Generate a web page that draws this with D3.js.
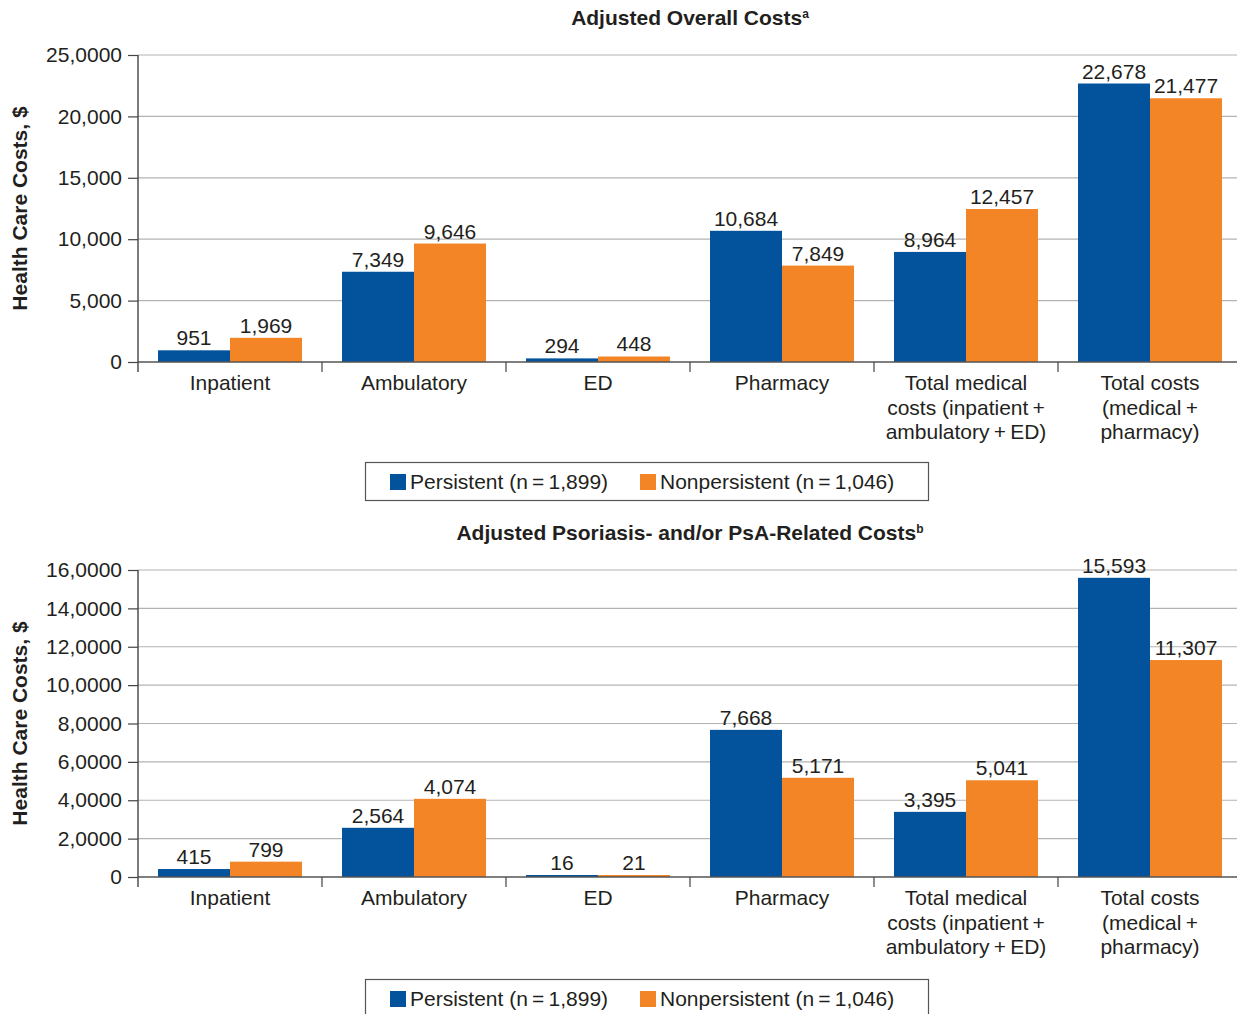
<!DOCTYPE html>
<html><head><meta charset="utf-8">
<script src="https://cdn.jsdelivr.net/npm/d3@7"></script>
<style>body{margin:0;background:#fff}svg{display:block;font-family:"Liberation Sans",Arial,sans-serif}</style>
</head><body>
<svg id="c" width="1237" height="1014"></svg>
<script>
const categories = [["Inpatient"],["Ambulatory"],["ED"],["Pharmacy"],["Total medical","costs (inpatient\u2009+","ambulatory\u2009+\u2009ED)"],["Total costs","(medical\u2009+","pharmacy)"]];
const seriesNames = ["Persistent (n\u2009=\u20091,899)","Nonpersistent (n\u2009=\u20091,046)"];
const overallPersistent = [951,7349,294,10684,8964,22678];
const overallNonpersistent = [1969,9646,448,7849,12457,21477];
const relatedPersistent = [415,2564,16,7668,3395,15593];
const relatedNonpersistent = [799,4074,21,5171,5041,11307];
const overallTicks = [0,5000,10000,15000,20000,25000];
const overallTickLabels = ["0","5,000","10,000","15,000","20,000","25,0000"];
const relatedTicks = [0,2000,4000,6000,8000,10000,12000,14000,16000];
const relatedTickLabels = ["0","2,0000","4,0000","6,0000","8,0000","10,0000","12,0000","14,0000","16,0000"];
const colors = ["#02529c","#f38526"];
const txt = "#231f20";
const FS = 21;

const svg = d3.select("#c");

function panel(cfg){
  const g = svg.append("g");
  const x = d3.scaleBand().domain(d3.range(categories.length)).range([138,1242]).padding(0);
  const xs = d3.scaleBand().domain([0,1]).range([20, x.bandwidth()-20]).padding(0);
  const y = d3.scaleLinear().domain([0,cfg.max]).range([cfg.y0, cfg.y1]);
  g.selectAll(".grid").data(cfg.ticks.slice(1)).join("line")
    .attr("x1",138).attr("x2",1237).attr("y1",d=>y(d)).attr("y2",d=>y(d))
    .attr("stroke","#b3b3b3").attr("stroke-width",1.2);
  const ya = d3.axisLeft(y).tickValues(cfg.ticks).tickFormat((d,i)=>cfg.labels[i]).tickSize(10).tickPadding(6);
  const yg = g.append("g").attr("transform","translate(138,0)").call(ya);
  yg.select(".domain").remove();
  yg.selectAll("line").attr("stroke","#444").attr("stroke-width",1.2);
  yg.selectAll("text").attr("font-size",FS).attr("fill",txt).attr("font-family","Liberation Sans, Arial, sans-serif");
  g.append("line").attr("x1",138).attr("x2",138).attr("y1",cfg.y1).attr("y2",cfg.y0+10).attr("stroke","#444").attr("stroke-width",1.4);
  const data = categories.map((c,i)=>[cfg.a[i],cfg.b[i]]);
  const grp = g.selectAll(".cat").data(data).join("g").attr("transform",(d,i)=>`translate(${x(i)},0)`);
  grp.selectAll("rect").data(d=>d).join("rect")
    .attr("x",(d,j)=>xs(j)).attr("width",xs.bandwidth())
    .attr("y",d=>Math.min(y(d), cfg.y0-2)).attr("height",d=>Math.max(cfg.y0-y(d),2))
    .attr("fill",(d,j)=>colors[j]);
  grp.selectAll("text.v").data(d=>d).join("text").attr("class","v")
    .attr("x",(d,j)=>xs(j)+xs.bandwidth()/2).attr("y",d=>Math.min(y(d),cfg.y0-2)-5)
    .attr("text-anchor","middle").attr("font-size",FS).attr("fill",txt)
    .text(d=>d3.format(",")(d));
  g.append("line").attr("x1",138).attr("x2",1237).attr("y1",cfg.y0).attr("y2",cfg.y0).attr("stroke","#555").attr("stroke-width",1.4);
  g.selectAll(".xt").data(d3.range(1,categories.length)).join("line")
    .attr("x1",i=>x(i)).attr("x2",i=>x(i)).attr("y1",cfg.y0).attr("y2",cfg.y0+10).attr("stroke","#444").attr("stroke-width",1.2);
  grp.each(function(d,i){
    d3.select(this).selectAll("text.c").data(categories[i]).join("text").attr("class","c")
      .attr("x",x.bandwidth()/2).attr("y",(t,k)=>cfg.y0+28+k*24.5)
      .attr("text-anchor","middle").attr("font-size",FS).attr("fill",txt).text(t=>t);
  });
  const t = g.append("text").attr("x",690).attr("y",cfg.titleY).attr("text-anchor","middle")
    .attr("font-size",FS).attr("font-weight","bold").attr("fill",txt);
  t.append("tspan").text(cfg.title);
  t.append("tspan").attr("font-size",12).attr("dy",-7).text(cfg.sup);
  g.append("text").attr("transform",`translate(27,${(cfg.y0+cfg.y1)/2}) rotate(-90)`)
    .attr("text-anchor","middle").attr("font-size",FS).attr("font-weight","bold").attr("fill",txt)
    .text("Health Care Costs, $");
  const lg = g.append("g").attr("transform",`translate(365,${cfg.legY})`);
  lg.append("rect").attr("x",0.5).attr("y",0.5).attr("width",563).attr("height",38).attr("fill","#fff").attr("stroke","#555").attr("stroke-width",1.2);
  const lx = [25,275];
  seriesNames.forEach((n,j)=>{
    lg.append("rect").attr("x",lx[j]).attr("y",12).attr("width",16).attr("height",16).attr("fill",colors[j]);
    lg.append("text").attr("x",lx[j]+20).attr("y",27).attr("font-size",FS).attr("fill",txt).text(n);
  });
}

panel({max:25000,y0:362,y1:55,ticks:overallTicks,labels:overallTickLabels,a:overallPersistent,b:overallNonpersistent,
  title:"Adjusted Overall Costs",sup:"a",titleY:25,legY:462});
panel({max:16000,y0:877,y1:570,ticks:relatedTicks,labels:relatedTickLabels,a:relatedPersistent,b:relatedNonpersistent,
  title:"Adjusted Psoriasis- and/or PsA-Related Costs",sup:"b",titleY:540,legY:979});
</script>
</body></html>
